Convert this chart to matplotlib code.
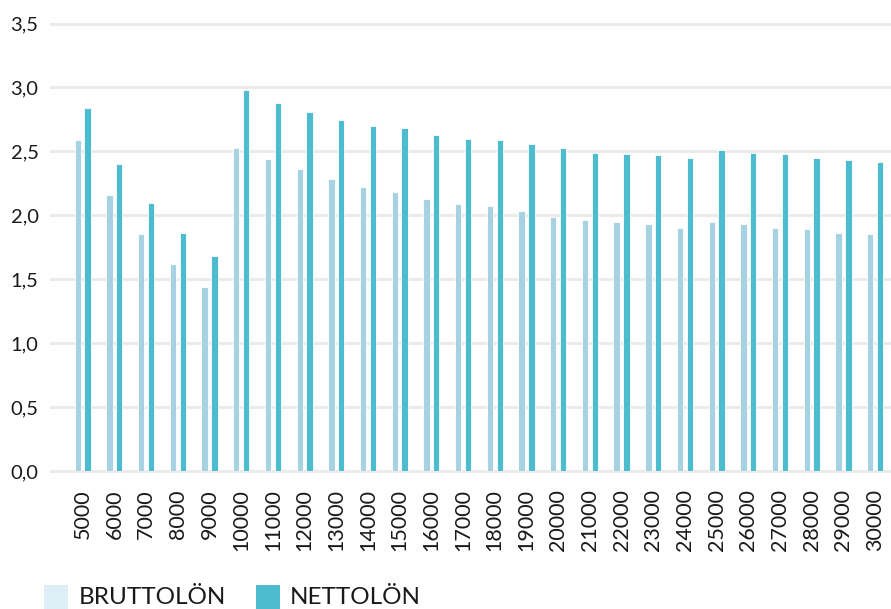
import matplotlib
matplotlib.use("Agg")
import matplotlib.pyplot as plt
from matplotlib.patches import Rectangle
import numpy as np

plt.rcParams['font.family'] = ['Lato', 'DejaVu Sans']

categories = ['5000', '6000', '7000', '8000', '9000', '10000', '11000', '12000', '13000',
              '14000', '15000', '16000', '17000', '18000', '19000', '20000', '21000',
              '22000', '23000', '24000', '25000', '26000', '27000', '28000', '29000', '30000']
brutto = [2.59, 2.16, 1.85, 1.62, 1.44, 2.53, 2.44, 2.36, 2.28, 2.22, 2.18, 2.13, 2.09,
          2.07, 2.03, 1.99, 1.96, 1.95, 1.93, 1.90, 1.95, 1.93, 1.90, 1.89, 1.865, 1.85]
netto = [2.84, 2.40, 2.10, 1.86, 1.68, 2.98, 2.88, 2.81, 2.745, 2.70, 2.68, 2.63, 2.60,
         2.59, 2.56, 2.53, 2.49, 2.48, 2.47, 2.45, 2.51, 2.49, 2.48, 2.45, 2.43, 2.42]
yticks = [0.0, 0.5, 1.0, 1.5, 2.0, 2.5, 3.0, 3.5]
ytick_labels = ['0,0', '0,5', '1,0', '1,5', '2,0', '2,5', '3,0', '3,5']
legend_labels = ['BRUTTOLÖN', 'NETTOLÖN']

c_brutto = '#a6d2e1'
c_netto = '#4dbccf'
c_brutto_leg = '#ddeef7'
c_grid = '#ecebe8'

W, H = 891, 609
fig = plt.figure(figsize=(W / 100, H / 100), dpi=100)
ax = fig.add_axes([51 / W, (H - 471) / H, (W - 51) / W, (471 - 23.5) / H])

x = np.arange(len(categories))
bw = 0.2
off = 0.155
ax.bar(x - off, brutto, width=bw, color=c_brutto, edgecolor='white', linewidth=0.6, zorder=3)
ax.bar(x + off, netto, width=bw, color=c_netto, edgecolor='white', linewidth=0.6, zorder=3)

ax.set_ylim(0, 3.5)
ax.set_xlim(-1.0, len(categories) - 0.5)
ax.set_yticks(yticks)
ax.set_yticklabels(ytick_labels)
ax.set_xticks(x)
ax.set_xticklabels(categories, rotation=90, va='top', ha='center')

for y in yticks:
    ax.axhline(y, color=c_grid, linewidth=2.2, zorder=1, clip_on=False)

for s in ax.spines.values():
    s.set_visible(False)
ax.tick_params(axis='both', length=0, colors='#1a1a1a')
ax.tick_params(axis='y', labelsize=14.5, pad=9)
ax.tick_params(axis='x', labelsize=15.5, pad=13)

# legend
lx = [44, 256]
tx = [79, 290]
cols = [c_brutto_leg, c_netto]
for i in range(2):
    fig.patches.append(Rectangle((lx[i] / W, 0), 24 / W, 24 / H, transform=fig.transFigure,
                                 facecolor=cols[i], edgecolor='none'))
    fig.text(tx[i] / W, 0.5 / H, legend_labels[i], fontsize=17.5, color='#1a1a1a',
             ha='left', va='bottom')

fig.savefig('out.png', dpi=100)
